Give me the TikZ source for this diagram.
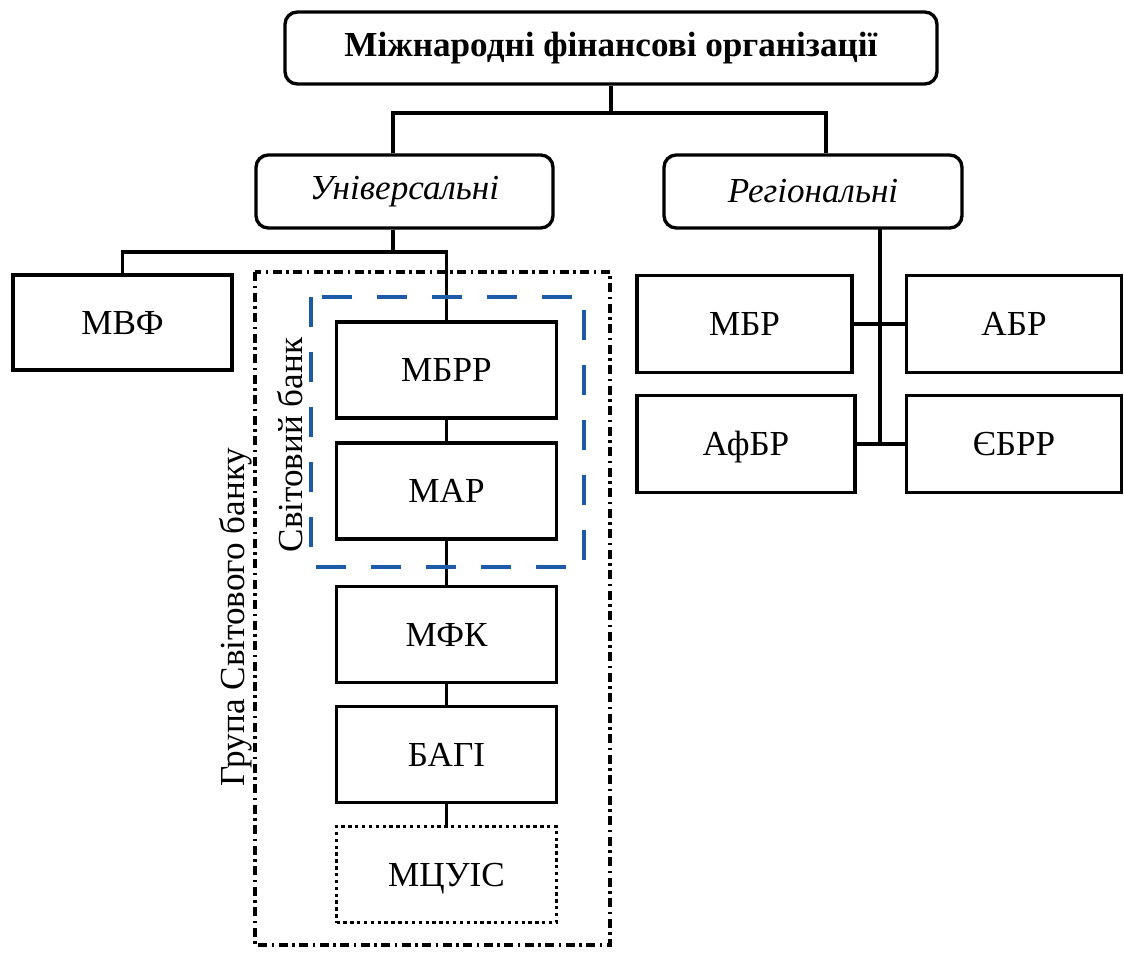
\documentclass[tikz,border=0pt]{standalone}
\usepackage{fontspec}
\setmainfont{Liberation Serif}
\usepackage{tikz}
\usetikzlibrary{calc, positioning}
\usepackage{xcolor}
\definecolor{bankblue}{RGB}{30,90,170}

\begin{document}
\begin{tikzpicture}[
    font=\fontsize{20}{24}\selectfont,
    headbox/.style={draw, line width=1.9pt, rounded corners=7pt, inner sep=0pt},
    orgbox/.style={draw, line width=1.9pt, minimum width=4.4cm, minimum height=1.92cm,
      inner sep=0pt, text height=13.2pt, text depth=0pt},
    link/.style={line width=1.8pt}
  ]
  \useasboundingbox (0,0) rectangle (22.48,-19.04);

  % Top level
  \node[headbox, minimum width=13.04cm, minimum height=1.44cm] (mfo) at (12.22,-0.96)
    {\textbf{Міжнародні фінансові організації}};
  \node[headbox, minimum width=5.94cm, minimum height=1.46cm] (univ) at (8.09,-3.83)
    {\textit{Універсальні}};
  \node[headbox, minimum width=5.96cm, minimum height=1.46cm] (reg) at (16.26,-3.83)
    {\textit{Регіональні}};

  \coordinate (split) at (12.22,-2.26);
  \coordinate (uleft) at (7.86,-2.26);
  \coordinate (rright) at (16.52,-2.26);
  \draw[link] (mfo.south) -- (split);
  \draw[link] (uleft |- univ.north) -- (uleft) -- (rright) -- (rright |- reg.north);

  % Universal organisations
  \node[orgbox, minimum width=4.38cm, minimum height=1.9cm] (mvf) at (2.45,-6.45) {МВФ};
  \node[orgbox] (mbrr) at (8.93,-7.4) {МБРР};
  \node[orgbox] (mar) at (8.93,-9.82) {МАР};
  \node[orgbox] (mfk) at (8.93,-12.69) {МФК};
  \node[orgbox] (bagi) at (8.93,-15.09) {БАГІ};
  \node[orgbox, dotted, line width=1.6pt] (mtsuis) at (8.93,-17.49) {МЦУІС};

  \coordinate (usplit) at (7.86,-5.04);
  \draw[link] (usplit |- univ.south) -- (usplit);
  \draw[link] (mvf.north) |- (usplit) -| (mbrr.north);
  \draw[link] (mbrr) -- (mar);
  \draw[link] (mar) -- (mfk);
  \draw[link] (mfk) -- (bagi);
  \draw[link] (bagi) -- (mtsuis);

  % World Bank and its group
  \draw[bankblue, line width=2.4pt, dash pattern=on 0.6cm off 0.5cm]
    (6.22,-5.94) rectangle (11.68,-11.34);
  \draw[line width=1.9pt, dash pattern=on 0.18cm off 0.09cm on 0.05cm off 0.09cm]
    (5.1,-5.44) rectangle (12.2,-18.9);
  \node[rotate=90] (wb) at (5.8,-8.9) {Світовий банк};
  \node[rotate=90] (wbg) at (4.72,-12.34) {Група Світового банку};

  % Regional organisations
  \node[orgbox, minimum width=4.3cm, minimum height=1.94cm] (mbr) at (14.89,-6.48) {МБР};
  \node[orgbox, minimum width=4.3cm, minimum height=1.94cm] (abr) at (20.28,-6.48) {АБР};
  \node[orgbox, minimum width=4.36cm, minimum height=1.94cm] (afbr) at (14.92,-8.88) {АфБР};
  \node[orgbox, minimum width=4.3cm, minimum height=1.94cm] (yebrr) at (20.28,-8.88) {ЄБРР};

  \coordinate (rtop) at (17.6,-4.56);
  \coordinate (rbot) at (17.6,-8.86);
  \draw[link] (rtop) -- (rbot);
  \draw[link] (mbr.east) -- (abr.west);
  \draw[link] (afbr.east) -- (yebrr.west);
\end{tikzpicture}
\end{document}
